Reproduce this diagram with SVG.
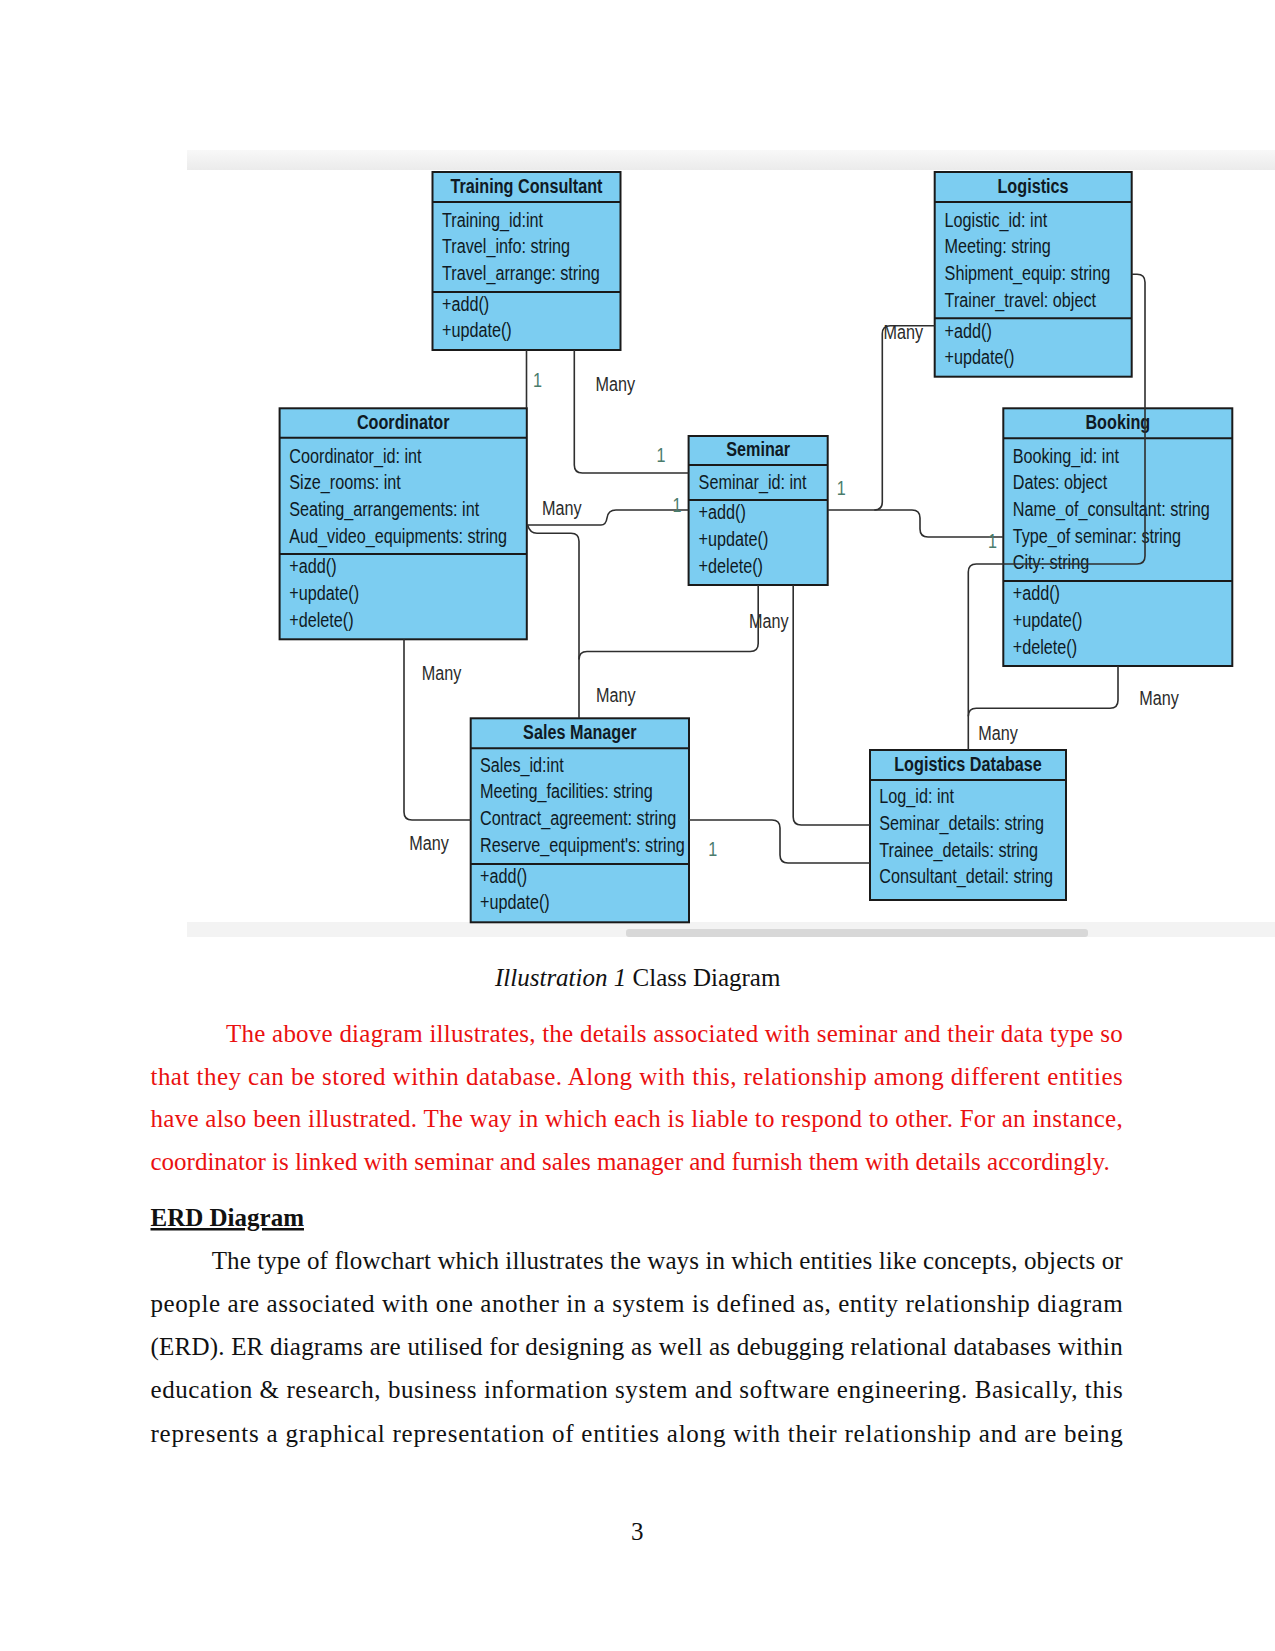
<svg xmlns="http://www.w3.org/2000/svg" width="1275" height="1651" viewBox="0 0 1275 1651">
<defs>
<linearGradient id="band" x1="0" y1="0" x2="0" y2="1">
<stop offset="0" stop-color="#f8f8f8"/>
<stop offset="1" stop-color="#ebebeb"/>
</linearGradient>
</defs>
<style>
.box{fill:#7ccdf1;stroke:#1a1a1a;stroke-width:2}
.div{stroke:#1a1a1a;stroke-width:2}
.t{font-family:"Liberation Sans",Arial,sans-serif;font-size:20px;fill:#0f1a24}
.h{font-weight:bold;text-anchor:middle}
.c{fill:none;stroke:#2e2e2e;stroke-width:1.6}
.m{font-family:"Liberation Sans",Arial,sans-serif;font-size:20px;fill:#2b2b2b}
.o{font-family:"Liberation Sans",Arial,sans-serif;font-size:20px;fill:#4a7c6c}
.p{font-family:"Liberation Serif","Times New Roman",serif;font-size:25px}
.red{fill:#ea1010}
.blk{fill:#111}
</style>
<rect width="1275" height="1651" fill="#fff"/>
<!-- top and bottom bands of the screenshot -->
<rect x="187" y="150" width="1088" height="20" fill="url(#band)"/>
<rect x="187" y="922" width="1088" height="15" fill="#f3f3f3"/>
<rect x="626" y="929" width="462" height="8" rx="3" fill="#d8d8d8"/>

<g id="training-consultant">
<rect class="box" x="432.5" y="172" width="188" height="178"/>
<line class="div" x1="432.5" y1="202" x2="620.5" y2="202"/>
<line class="div" x1="432.5" y1="292" x2="620.5" y2="292"/>
<text class="t h" transform="translate(526.5,193) scale(0.81,1)">Training Consultant</text>
<text class="t" transform="translate(442,226.7) scale(0.81,1)">Training_id:int</text>
<text class="t" transform="translate(442,253.3) scale(0.81,1)">Travel_info: string</text>
<text class="t" transform="translate(442,280) scale(0.81,1)">Travel_arrange: string</text>
<text class="t" transform="translate(442,310.5) scale(0.81,1)">+add()</text>
<text class="t" transform="translate(442,337.2) scale(0.81,1)">+update()</text>
</g>

<g id="logistics">
<rect class="box" x="934.7" y="172" width="197" height="204.7"/>
<line class="div" x1="934.7" y1="202" x2="1131.7" y2="202"/>
<line class="div" x1="934.7" y1="318.3" x2="1131.7" y2="318.3"/>
<text class="t h" transform="translate(1033,193) scale(0.81,1)">Logistics</text>
<text class="t" transform="translate(944.6,226.7) scale(0.81,1)">Logistic_id: int</text>
<text class="t" transform="translate(944.6,253.3) scale(0.81,1)">Meeting: string</text>
<text class="t" transform="translate(944.6,280) scale(0.81,1)">Shipment_equip: string</text>
<text class="t" transform="translate(944.6,306.7) scale(0.81,1)">Trainer_travel: object</text>
<text class="t" transform="translate(944.6,337.5) scale(0.81,1)">+add()</text>
<text class="t" transform="translate(944.6,364.2) scale(0.81,1)">+update()</text>
</g>

<g id="coordinator">
<rect class="box" x="279.6" y="408.3" width="247.2" height="231"/>
<line class="div" x1="279.6" y1="437.7" x2="526.8" y2="437.7"/>
<line class="div" x1="279.6" y1="554" x2="526.8" y2="554"/>
<text class="t h" transform="translate(403.2,428.5) scale(0.81,1)">Coordinator</text>
<text class="t" transform="translate(289.3,462.7) scale(0.81,1)">Coordinator_id: int</text>
<text class="t" transform="translate(289.3,489.3) scale(0.81,1)">Size_rooms: int</text>
<text class="t" transform="translate(289.3,516) scale(0.81,1)">Seating_arrangements: int</text>
<text class="t" transform="translate(289.3,542.7) scale(0.81,1)">Aud_video_equipments: string</text>
<text class="t" transform="translate(289.3,573.2) scale(0.81,1)">+add()</text>
<text class="t" transform="translate(289.3,600) scale(0.81,1)">+update()</text>
<text class="t" transform="translate(289.3,626.7) scale(0.81,1)">+delete()</text>
</g>

<g id="seminar">
<rect class="box" x="688.6" y="436" width="139.1" height="149"/>
<line class="div" x1="688.6" y1="465" x2="827.7" y2="465"/>
<line class="div" x1="688.6" y1="500" x2="827.7" y2="500"/>
<text class="t h" transform="translate(758.2,456) scale(0.81,1)">Seminar</text>
<text class="t" transform="translate(698.6,489.3) scale(0.81,1)">Seminar_id: int</text>
<text class="t" transform="translate(698.6,519.3) scale(0.81,1)">+add()</text>
<text class="t" transform="translate(698.6,546) scale(0.81,1)">+update()</text>
<text class="t" transform="translate(698.6,572.7) scale(0.81,1)">+delete()</text>
</g>

<g id="booking">
<rect class="box" x="1003.3" y="408.3" width="229" height="257.7"/>
<line class="div" x1="1003.3" y1="438.3" x2="1232.3" y2="438.3"/>
<line class="div" x1="1003.3" y1="581" x2="1232.3" y2="581"/>
<text class="t h" transform="translate(1117.8,429) scale(0.81,1)">Booking</text>
<text class="t" transform="translate(1012.7,462.7) scale(0.81,1)">Booking_id: int</text>
<text class="t" transform="translate(1012.7,489.3) scale(0.81,1)">Dates: object</text>
<text class="t" transform="translate(1012.7,516) scale(0.81,1)">Name_of_consultant: string</text>
<text class="t" transform="translate(1012.7,542.7) scale(0.81,1)">Type_of seminar: string</text>
<text class="t" transform="translate(1012.7,569.3) scale(0.81,1)">City: string</text>
<text class="t" transform="translate(1012.7,600.3) scale(0.81,1)">+add()</text>
<text class="t" transform="translate(1012.7,627) scale(0.81,1)">+update()</text>
<text class="t" transform="translate(1012.7,653.7) scale(0.81,1)">+delete()</text>
</g>

<g id="sales-manager">
<rect class="box" x="470.7" y="718.3" width="218.3" height="204"/>
<line class="div" x1="470.7" y1="748.3" x2="689" y2="748.3"/>
<line class="div" x1="470.7" y1="864" x2="689" y2="864"/>
<text class="t h" transform="translate(579.8,738.8) scale(0.81,1)">Sales Manager</text>
<text class="t" transform="translate(480,771.7) scale(0.81,1)">Sales_id:int</text>
<text class="t" transform="translate(480,798.3) scale(0.81,1)">Meeting_facilities: string</text>
<text class="t" transform="translate(480,825) scale(0.81,1)">Contract_agreement: string</text>
<text class="t" transform="translate(480,851.7) scale(0.81,1)">Reserve_equipment's: string</text>
<text class="t" transform="translate(480,882.7) scale(0.81,1)">+add()</text>
<text class="t" transform="translate(480,909.4) scale(0.81,1)">+update()</text>
</g>

<g id="logistics-database">
<rect class="box" x="870" y="750" width="196" height="150"/>
<line class="div" x1="870" y1="780" x2="1066" y2="780"/>
<text class="t h" transform="translate(968,771) scale(0.81,1)">Logistics Database</text>
<text class="t" transform="translate(879.3,803.3) scale(0.81,1)">Log_id: int</text>
<text class="t" transform="translate(879.3,830) scale(0.81,1)">Seminar_details: string</text>
<text class="t" transform="translate(879.3,856.7) scale(0.81,1)">Trainee_details: string</text>
<text class="t" transform="translate(879.3,883.3) scale(0.81,1)">Consultant_detail: string</text>
</g>

<g id="connectors">
<path class="c" d="M526.5,350 V408.3"/>
<path class="c" d="M574.3,350 V465 Q574.3,473 582.3,473 H688.6"/>
<path class="c" d="M526.8,525 H601 Q606,525 607,518 Q608,510 616,510 H688.6"/>
<path class="c" d="M527.5,525 Q530,533.3 537,533.3 H571 Q579,533.3 579,541.3 V718.3"/>
<path class="c" d="M758.2,585 V643.5 Q758.2,651.5 750.2,651.5 H587 Q579,651.5 579,659.5"/>
<path class="c" d="M793.2,585 V817 Q793.2,825 801.2,825 H870"/>
<path class="c" d="M689,820 H772 Q780,820 780,828 V855 Q780,863 788,863 H870"/>
<path class="c" d="M404,639.3 V812 Q404,820 412,820 H470.7"/>
<path class="c" d="M934.7,325.7 H890.3 Q882.3,325.7 882.3,333.7 V502 Q882.3,510 874.3,510"/>
<path class="c" d="M827.7,510 H912 Q920,510 920,518 V529 Q920,537 928,537 H1003.3"/>
<path class="c" d="M1131.7,274.3 H1137 Q1145,274.3 1145,282.3 V556 Q1145,564 1137,564 H976.3 Q968.3,564 968.3,572 V750"/>
<path class="c" d="M1118,666 V700.3 Q1118,708.3 1110,708.3 H976.3 Q968.3,708.3 968.3,716.3"/>
<text class="o" transform="translate(533,386.7) scale(0.81,1)">1</text>
<text class="m" transform="translate(595.6,390.7) scale(0.81,1)">Many</text>
<text class="o" transform="translate(656.4,461.7) scale(0.81,1)">1</text>
<text class="m" transform="translate(542,515) scale(0.81,1)">Many</text>
<text class="o" transform="translate(672.5,511.7) scale(0.81,1)">1</text>
<text class="m" transform="translate(883.4,339.3) scale(0.81,1)">Many</text>
<text class="o" transform="translate(836.7,495) scale(0.81,1)">1</text>
<text class="o" transform="translate(988,548) scale(0.81,1)">1</text>
<text class="m" transform="translate(749,628.3) scale(0.81,1)">Many</text>
<text class="m" transform="translate(421.7,679.5) scale(0.81,1)">Many</text>
<text class="m" transform="translate(596,701.5) scale(0.81,1)">Many</text>
<text class="m" transform="translate(409.3,849.5) scale(0.81,1)">Many</text>
<text class="o" transform="translate(708.3,856) scale(0.81,1)">1</text>
<text class="m" transform="translate(1139.3,704.5) scale(0.81,1)">Many</text>
<text class="m" transform="translate(978.3,739.5) scale(0.81,1)">Many</text>
</g>

<g id="page-text">
<text class="p blk" x="495" y="986"><tspan font-style="italic">Illustration 1</tspan> Class Diagram</text>
<text class="p red" x="226" y="1041.7" textLength="896.7" lengthAdjust="spacing">The above diagram illustrates, the details associated with seminar and their data type so</text>
<text class="p red" x="150.5" y="1085" textLength="972.2" lengthAdjust="spacing">that they can be stored within database. Along with this, relationship among different entities</text>
<text class="p red" x="150.5" y="1127" textLength="972.2" lengthAdjust="spacing">have also been illustrated. The way in which each is liable to respond to other. For an instance,</text>
<text class="p red" x="150.5" y="1170">coordinator is linked with seminar and sales manager and furnish them with details accordingly.</text>
<text class="p blk" x="150.5" y="1226" font-weight="bold" text-decoration="underline">ERD Diagram</text>
<text class="p blk" x="211.7" y="1269" textLength="911" lengthAdjust="spacing">The type of flowchart which illustrates the ways in which entities like concepts, objects or</text>
<text class="p blk" x="150.5" y="1311.7" textLength="972.2" lengthAdjust="spacing">people are associated with one another in a system is defined as, entity relationship diagram</text>
<text class="p blk" x="150.5" y="1355" textLength="972.2" lengthAdjust="spacing">(ERD). ER diagrams are utilised for designing as well as debugging relational databases within</text>
<text class="p blk" x="150.5" y="1398.3" textLength="972.2" lengthAdjust="spacing">education &amp; research, business information system and software engineering. Basically, this</text>
<text class="p blk" x="150.5" y="1441.7" textLength="972.2" lengthAdjust="spacing">represents a graphical representation of entities along with their relationship and are being</text>
<text class="p blk" x="637.3" y="1540" text-anchor="middle">3</text>
</g>
</svg>
